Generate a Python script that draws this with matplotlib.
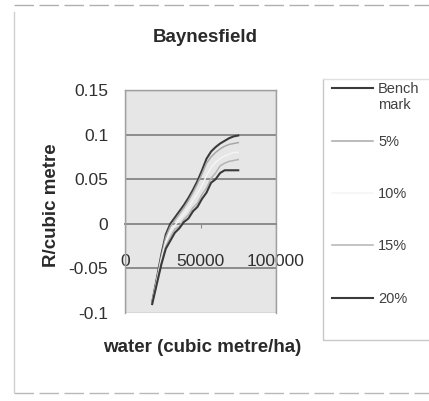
import matplotlib.pyplot as plt
from matplotlib.lines import Line2D

plt.rcParams['font.family'] = ['Liberation Sans', 'DejaVu Sans']

# water applied (cubic metre/ha) and return per cubic metre for each scenario
water = [18000, 21000, 24000, 27000, 30000, 33000, 36000, 39000, 42000, 45000,
         48000, 51000, 54000, 57000, 60000, 63000, 66000, 69000, 72000, 75000]
benchmark = [-0.088, -0.062, -0.035, -0.012, 0.000, 0.007, 0.014, 0.021, 0.029, 0.038,
             0.048, 0.060, 0.073, 0.081, 0.086, 0.090, 0.093, 0.096, 0.098, 0.099]
pct5 = [-0.088, -0.063, -0.037, -0.015, -0.003, 0.004, 0.011, 0.018, 0.026, 0.035,
        0.045, 0.056, 0.068, 0.075, 0.080, 0.084, 0.087, 0.089, 0.090, 0.091]
pct10 = [-0.089, -0.065, -0.040, -0.020, -0.008, -0.002, 0.005, 0.011, 0.018, 0.026,
         0.034, 0.043, 0.054, 0.063, 0.069, 0.073, 0.076, 0.078, 0.080, 0.080]
pct15 = [-0.089, -0.067, -0.044, -0.025, -0.015, -0.006, -0.003, 0.005, 0.010, 0.018,
         0.023, 0.033, 0.040, 0.051, 0.057, 0.065, 0.068, 0.070, 0.071, 0.072]
pct20 = [-0.090, -0.068, -0.046, -0.028, -0.019, -0.010, -0.005, 0.002, 0.006, 0.014,
         0.019, 0.028, 0.035, 0.046, 0.050, 0.057, 0.060, 0.060, 0.060, 0.060]

names = ['Bench\nmark', '5%', '10%', '15%', '20%']
series = [benchmark, pct5, pct10, pct15, pct20]
colors = ['#3a3a3a', '#a8a8a8', '#f4f4f4', '#b4b4b4', '#3a3a3a']
widths = [1.5, 1.1, 1.1, 1.1, 1.5]

yticks = [-0.1, -0.05, 0, 0.05, 0.1, 0.15]
ytick_labels = ['-0.1', '-0.05', '0', '0.05', '0.1', '0.15']
xticks = [0, 50000, 100000]
xtick_labels = ['0', '50000', '100000']

W, H = 429, 401
fig = plt.figure(figsize=(W / 100, H / 100), dpi=100)
fig.patch.set_facecolor('white')
ax = fig.add_axes([125 / W, 1 - 313 / H, 151 / W, 223 / H])
ax.set_facecolor('#e6e6e6')

for y, c, lw in zip(series, colors, widths):
    ax.plot(water, y, color=c, linewidth=lw, zorder=3)

ax.set_xlim(0, 100000)
ax.set_ylim(-0.1, 0.15)
for g in [-0.05, 0.05, 0.1]:
    ax.axhline(g, color='#8c8c8c', linewidth=1.4, zorder=1)

# x axis crosses at y = 0 like a spreadsheet chart
ax.spines['bottom'].set_position(('data', 0))
ax.spines['bottom'].set_color('#8c8c8c')
ax.spines['bottom'].set_linewidth(1.4)
for s in ['left', 'top', 'right']:
    ax.spines[s].set_color('#a0a0a0')
    ax.spines[s].set_linewidth(1.0)
border = plt.Rectangle((0, 0), 1, 1, transform=ax.transAxes, fill=False,
                       edgecolor='#a0a0a0', linewidth=1.0, zorder=4)
ax.add_patch(border)

ax.set_xticks(xticks)
ax.set_xticklabels(xtick_labels, fontsize=12.5, color='#303030')
ax.set_yticks(yticks)
ax.set_yticklabels(ytick_labels, fontsize=12.5, color='#303030')
ax.tick_params(axis='x', length=3, color='#8c8c8c', pad=19)
ax.tick_params(axis='y', length=0, pad=12)

fig.text(205 / W, 1 - 37 / H, 'Baynesfield', ha='center', va='center',
         fontsize=13.5, fontweight='bold', color='#2a2a2a')
fig.text(52 / W, 1 - 205 / H, 'R/cubic metre', ha='center', va='center',
         rotation=90, fontsize=13.5, fontweight='bold', color='#2a2a2a')
fig.text(202 / W, 1 - 348 / H, 'water (cubic metre/ha)', ha='center', va='center',
         fontsize=13.5, fontweight='bold', color='#2a2a2a')

# legend box running off the right edge
fig.add_artist(Line2D([323 / W, 323 / W, 1.01], [1 - 79 / H, 1 - 340 / H, 1 - 340 / H],
                      transform=fig.transFigure, color='#c8c8c8', linewidth=1.0))
fig.add_artist(Line2D([323 / W, 1.01], [1 - 79 / H, 1 - 79 / H],
                      transform=fig.transFigure, color='#e0e0e0', linewidth=1.0))
legend_y = [88, 141, 193, 245, 298]
for name, c, lw, ly in zip(names, colors, widths, legend_y):
    fig.add_artist(Line2D([332 / W, 373 / W], [1 - ly / H, 1 - ly / H],
                          transform=fig.transFigure, color=c, linewidth=lw))
    fig.text(378 / W, 1 - (ly - 6) / H, name, ha='left', va='top', fontsize=10.5,
             color='#404040', linespacing=1.15)

# outer chart frame
fig.add_artist(Line2D([14 / W, 1.01], [1 - 5 / H, 1 - 5 / H], transform=fig.transFigure,
                      color='#b0b0b0', linewidth=1.0, linestyle=(0, (14, 4))))
fig.add_artist(Line2D([14 / W, 14 / W], [1 - 12 / H, 1 - 392 / H], transform=fig.transFigure,
                      color='#d0d0d0', linewidth=1.0))
fig.add_artist(Line2D([14 / W, 1.01], [1 - 393 / H, 1 - 393 / H], transform=fig.transFigure,
                      color='#b8b8b8', linewidth=1.0, linestyle=(0, (14, 4))))

fig.savefig('out.png', dpi=100)
